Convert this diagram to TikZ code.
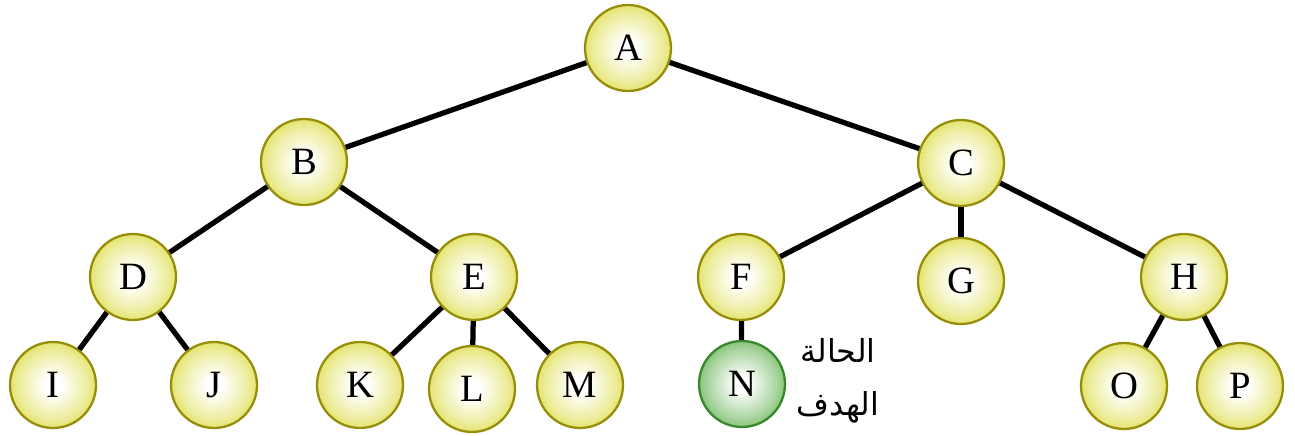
\documentclass[tikz,border=0pt]{standalone}
\usepackage{fontspec}
\setmainfont{Liberation Serif}
\newfontfamily\arabicfont[Script=Arabic]{DejaVu Sans}
\TeXXeTstate=1
\definecolor{ybord}{RGB}{150,142,8}
\definecolor{yfill}{RGB}{214,214,38}
\definecolor{gbord}{RGB}{55,135,45}
\definecolor{gfill}{RGB}{85,170,65}
\pgfdeclareradialshading{yball}{\pgfpoint{0bp}{0bp}}{color(0bp)=(white); color(5bp)=(white); color(20bp)=(yfill!45!white); color(33bp)=(yfill); color(50bp)=(yfill)}
\pgfdeclareradialshading{gball}{\pgfpoint{0bp}{0bp}}{color(0bp)=(white); color(4bp)=(white); color(20bp)=(gfill!50!white); color(33bp)=(gfill); color(50bp)=(gfill)}
\tikzset{
  st/.style={circle, minimum size=1.72cm, inner sep=0pt, draw=ybord, line width=1.3pt,
    shading=yball, font=\fontsize{22}{24}\selectfont},
  goal/.style={st, draw=gbord, shading=gball},
  edge/.style={line width=3pt, black}
}
\begin{document}
\begin{tikzpicture}[x=0.02cm,y=-0.02cm]
\useasboundingbox (0,0) rectangle (1295,436);
\node[st] (A) at (628,48) {A};
\node[st] (B) at (304,162) {B};
\node[st] (C) at (961,163) {C};
\node[st] (D) at (133,277) {D};
\node[st] (E) at (474,277) {E};
\node[st] (F) at (741,277) {F};
\node[st] (G) at (961,281) {G};
\node[st] (H) at (1184,277) {H};
\node[st] (I) at (53,385) {I};
\node[st] (J) at (214,385) {J};
\node[st] (K) at (360,385) {K};
\node[st] (L) at (472,389) {L};
\node[st] (M) at (580,385) {M};
\node[goal] (N) at (742,384) {N};
\node[st] (O) at (1124,386) {O};
\node[st] (P) at (1240,386) {P};
\node[font=\fontsize{18}{30}\selectfont, align=center] (lbl) at (838,381) {\arabicfont\beginR الحالة\endR\\ \arabicfont\beginR الهدف\endR};
\draw[edge] (A) -- (B);
\draw[edge] (A) -- (C);
\draw[edge] (B) -- (D);
\draw[edge] (B) -- (E);
\draw[edge] (C) -- (F);
\draw[edge] (C) -- (G);
\draw[edge] (C) -- (H);
\draw[edge] (D) -- (I);
\draw[edge] (D) -- (J);
\draw[edge] (E) -- (K);
\draw[edge] (E) -- (L);
\draw[edge] (E) -- (M);
\draw[edge] (F) -- (N);
\draw[edge] (H) -- (O);
\draw[edge] (H) -- (P);
\end{tikzpicture}
\end{document}
